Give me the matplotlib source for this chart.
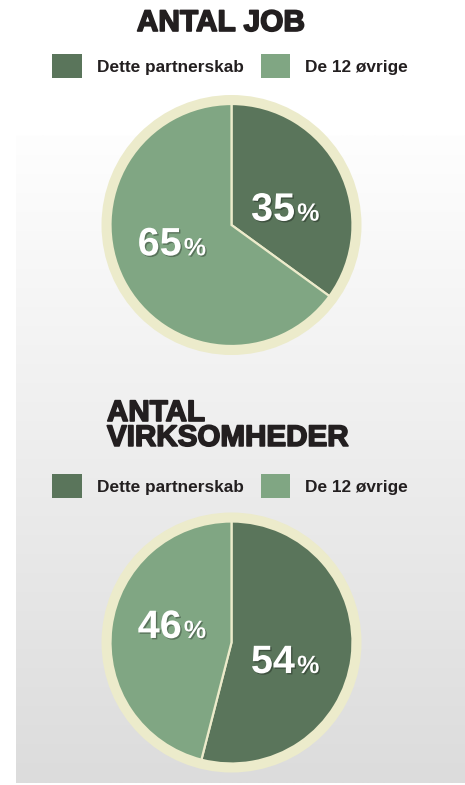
import numpy as np
import matplotlib.pyplot as plt
import matplotlib.patheffects as pe
from matplotlib.patches import Patch, Circle

W, H = 465, 785

# data
titles = ["ANTAL JOB", "ANTAL\nVIRKSOMHEDER"]
labels = ["Dette partnerskab", "De 12 øvrige"]
shares_job = [35, 65]
shares_firms = [54, 46]

dark = "#5a755b"
light = "#80a683"
cream = "#ecebcb"
ink = "#231f20"

plt.rcParams['font.family'] = ['Liberation Sans', 'DejaVu Sans']

fig = plt.figure(figsize=(W / 100, H / 100), dpi=100)
fig.patch.set_facecolor("white")

# background axes in pixel units (y down)
bg = fig.add_axes([0, 0, 1, 1])
bg.set_xlim(0, W)
bg.set_ylim(H, 0)
bg.axis("off")
grad = np.linspace(0, 1, 256).reshape(-1, 1)
bg.imshow(grad, cmap=plt.matplotlib.colors.LinearSegmentedColormap.from_list(
    "g", ["#fefefe", "#dcdcdc"]), extent=(16, W, 783, 135), aspect="auto", zorder=0)

title_fx = [pe.withStroke(linewidth=1.2, foreground=ink)]
bg.text(221, 23, titles[0], ha="center", va="center", fontsize=21.5,
        fontweight="bold", color=ink, path_effects=title_fx)
bg.text(107, 399, titles[1], ha="left", va="top", fontsize=21.3,
        fontweight="bold", color=ink, linespacing=0.86, path_effects=title_fx)

handles = [Patch(facecolor=dark), Patch(facecolor=light)]
for ly in [66, 486]:
    fig.legend(handles, labels, loc="center", bbox_to_anchor=(230 / W, 1 - ly / H),
               ncol=2, frameon=False, prop={"weight": "bold", "size": 12.4},
               handlelength=1.72, handleheight=1.72, handletextpad=0.85,
               columnspacing=1.0, labelcolor=ink)

R = 121
num_fx = [pe.SimplePatchShadow(offset=(1, -1), shadow_rgbFace="k", alpha=0.3), pe.Normal()]


def draw_pie(cx, cy, values):
    half = 140
    ax = fig.add_axes([(cx - half) / W, 1 - (cy + half) / H, 2 * half / W, 2 * half / H])
    ax.add_patch(Circle((0, 0), 130, facecolor=cream, edgecolor="none", zorder=0))
    wedges, _ = ax.pie(values, colors=[dark, light], radius=R, startangle=90,
                       counterclock=False, frame=True,
                       wedgeprops={"edgecolor": cream, "linewidth": 1.6, "zorder": 1})
    ax.set_xlim(-half, half)
    ax.set_ylim(-half, half)
    ax.set_aspect("equal")
    ax.axis("off")
    for w, v in zip(wedges, values):
        mid = np.deg2rad((w.theta1 + w.theta2) / 2 - 10)
        x, y = 0.49 * R * np.cos(mid), 0.49 * R * np.sin(mid)
        ax.text(x + 7, y - 13, str(v), ha="right", va="baseline", fontsize=28.5,
                fontweight="bold", color="white", path_effects=num_fx, zorder=3)
        ax.text(x + 9, y - 13, "%", ha="left", va="baseline", fontsize=18,
                fontweight="bold", color="white", path_effects=num_fx, zorder=3)


draw_pie(231.5, 225, shares_job)
draw_pie(231.5, 642.5, shares_firms)

fig.savefig("out.png", dpi=100)
